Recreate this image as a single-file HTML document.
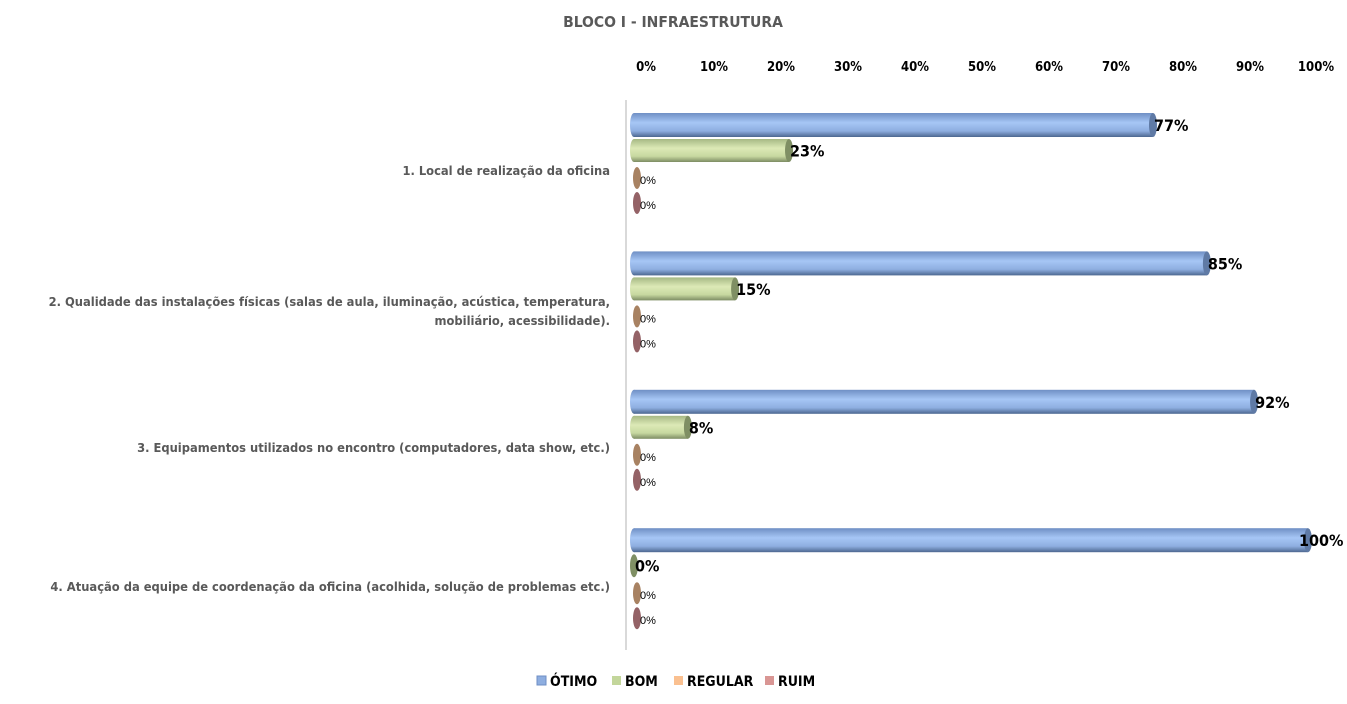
<!DOCTYPE html><html><head><meta charset="utf-8"><style>
body{margin:0;background:#fff;width:1347px;height:704px;overflow:hidden}
svg{display:block;font-family:"Liberation Sans",sans-serif}
.c{font-family:"DejaVu Sans Condensed","Liberation Sans",sans-serif;font-weight:bold;fill:#595959;font-size:12.8px}
.t{font-family:"DejaVu Sans Condensed","Liberation Sans",sans-serif;font-weight:bold;font-size:13px;fill:#000}
.v{font-family:"DejaVu Sans Condensed","Liberation Sans",sans-serif;font-weight:bold;font-size:16px;fill:#000}
.z{font-size:11px;fill:#000}
</style></head><body>
<svg width="1347" height="704" viewBox="0 0 1347 704">
<defs>
<linearGradient id="gb" x1="0" y1="0" x2="0" y2="1"><stop offset="0" stop-color="#6f8fc4"/><stop offset=".4" stop-color="#a6c6f5"/><stop offset=".75" stop-color="#8eaee0"/><stop offset="1" stop-color="#4c6790"/></linearGradient>
<linearGradient id="gg" x1="0" y1="0" x2="0" y2="1"><stop offset="0" stop-color="#a6b884"/><stop offset=".4" stop-color="#dce9b6"/><stop offset=".75" stop-color="#c7d8a0"/><stop offset="1" stop-color="#7d8c63"/></linearGradient>
</defs>
<text x="673" y="27" text-anchor="middle" class="c" style="font-size:15.5px">BLOCO I - INFRAESTRUTURA</text>
<g class="t" text-anchor="middle">
<text x="646" y="71">0%</text><text x="714" y="71">10%</text><text x="781" y="71">20%</text><text x="848" y="71">30%</text><text x="915" y="71">40%</text><text x="982" y="71">50%</text><text x="1049" y="71">60%</text><text x="1116" y="71">70%</text><text x="1183" y="71">80%</text><text x="1250" y="71">90%</text><text x="1316" y="71">100%</text>
</g>
<line x1="626" y1="100" x2="626" y2="650" stroke="#d9d9d9" stroke-width="2"/>
<g id="bars"></g>
<g class="c" text-anchor="end">
<text x="610" y="175">1. Local de realização da oficina</text>
<text x="610" y="306">2. Qualidade das instalações físicas (salas de aula, iluminação, acústica, temperatura,</text>
<text x="610" y="325">mobiliário, acessibilidade).</text>
<text x="610" y="452">3. Equipamentos utilizados no encontro (computadores, data show, etc.)</text>
<text x="610" y="591">4. Atuação da equipe de coordenação da oficina (acolhida, solução de problemas etc.)</text>
</g>
<rect x="537" y="676" width="9" height="9" fill="#8eaee0" stroke="#6f8fc4"/><text x="550" y="686" class="t" style="font-size:14px">ÓTIMO</text>
<rect x="612" y="676" width="9" height="9" fill="#c3d69b"/><text x="625" y="686" class="t" style="font-size:14px">BOM</text>
<rect x="674" y="676" width="9" height="9" fill="#fac090"/><text x="687" y="686" class="t" style="font-size:14px">REGULAR</text>
<rect x="765" y="676" width="9" height="9" fill="#d99694"/><text x="778" y="686" class="t" style="font-size:14px">RUIM</text>
</svg>
<script>
const data=[[77,23],[85,15],[92,8],[100,0]];
let s='';const x0=634,k=6.74;
data.forEach((d,g)=>{const y0=113+138.4*g;
[[d[0],y0,24,'url(#gb)','#5f7aa5'],[d[1],y0+26,23,'url(#gg)','#7f8f64']].forEach(([p,y,h,f,cap])=>{
const xe=x0+k*p;
if(p>0)s+=`<rect x="${x0}" y="${y}" width="${xe-x0}" height="${h}" fill="${f}"/><ellipse cx="${x0}" cy="${y+h/2}" rx="4" ry="${h/2}" fill="${f}"/>`;
s+=`<ellipse cx="${xe}" cy="${y+h/2}" rx="4" ry="${h/2}" fill="${cap}"/>`;
const tx=p==100?xe-9:xe+1;
s+=`<text class="v" x="${tx}" y="${y+h/2+6}">${p}%</text>`;});
s+=`<ellipse cx="637" cy="${y0+65}" rx="4" ry="11" fill="#a88262"/><text class="z" x="640" y="${y0+71}">0%</text>`;
s+=`<ellipse cx="637" cy="${y0+90}" rx="4" ry="11" fill="#946266"/><text class="z" x="640" y="${y0+96}">0%</text>`;});
document.getElementById('bars').innerHTML=s;
</script>
</body></html>
